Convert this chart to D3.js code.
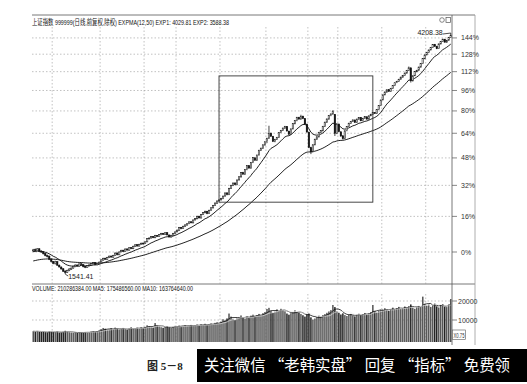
<!DOCTYPE html>
<html><head><meta charset="utf-8">
<script src="https://cdn.jsdelivr.net/npm/d3@7"></script>
<style>body{margin:0;background:#fff}svg{display:block}</style>
</head><body>
<svg id="c" width="527" height="384"></svg>
<script>
// ---- data (Shanghai index daily) ----
const closes = [
1705,1700,1712,1695,1690,1678,1665,1660,1640,1625,
1612,1622,1600,1588,1575,1560,1552,1565,1574,1580,1592,1600,1594,1608,1604,1590,1586,1596,1601,1610,1616,1604,1612,1620,
1635,1646,1640,1652,1661,1655,1666,1682,1671,1690,1702,1694,1711,1704,1720,1714,1731,1741,1733,1745,1752,1750,
1762,1786,1791,1802,1794,1811,1804,1816,1826,1819,1831,1815,1800,1812,1826,1837,
1851,1872,1864,1881,1892,1901,1916,1909,1931,1942,1961,1948,1976,1991,2002,1984,2011,2032,2051,2072,2090,2099,
2112,2133,2161,2148,2203,2231,2252,2238,2281,2312,2352,2338,2381,2422,2398,2452,2503,2478,2531,2582,2603,2641,2675,
2715,2771,2738,2680,2702,2724,2781,2803,2832,2851,2798,2761,2822,2884,2921,2962,2941,2975,2948,2880,2786,
2612,2565,2642,2703,2731,2782,2801,2852,2903,2941,2982,3004,3040,2771,2881,
2790,2740,2710,2800,2850,2890,2910,2930,2900,2940,2960,2920,2950,2970,2940,2980,3000,3020,3010,3060,3110,3183,
3252,3291,3322,3301,3342,3381,3421,3442,3471,3502,3523,3562,3601,3641,3449,3521,3582,3603,3652,3703,3781,3841,
3882,3921,3962,4013,3981,3942,4022,4061,4102,4051,4083,4132,4165];
const opens = [
1698,1706,1699,1713,1696,1691,1679,1664,1661,1641,
1624,1611,1623,1599,1587,1576,1561,1553,1566,1573,1581,1591,1601,1593,1609,1603,1591,1585,1597,1600,1609,1617,1603,1611,
1622,1634,1647,1639,1653,1662,1654,1667,1683,1670,1691,1703,1693,1712,1703,1721,1713,1730,1742,1732,1746,1753,
1752,1763,1785,1792,1803,1793,1812,1803,1817,1827,1818,1832,1814,1799,1813,1825,
1838,1850,1873,1863,1882,1891,1902,1917,1908,1932,1941,1962,1947,1977,1990,2003,1983,2012,2031,2052,2071,2091,
2100,2111,2134,2162,2147,2204,2230,2253,2237,2282,2311,2353,2337,2382,2421,2397,2453,2502,2477,2532,2581,2604,2640,
2676,2716,2772,2737,2679,2703,2725,2780,2804,2831,2852,2797,2760,2823,2883,2922,2961,2940,2976,2947,2879,
2785,2611,2566,2641,2704,2730,2783,2800,2853,2902,2940,2983,3003,3000,2770,
2880,2788,2742,2712,2801,2851,2889,2911,2929,2901,2939,2961,2921,2951,2969,2941,2981,2999,3021,3011,3059,3110,
3185,3253,3290,3323,3300,3343,3380,3422,3441,3472,3501,3524,3561,3602,3640,3448,3522,3581,3604,3651,3704,3780,
3842,3881,3922,3961,4014,3980,3943,4021,4062,4101,4050,4084,4131];
const highs = [
1712,1715,1718,1716,1702,1695,1684,1672,1665,1646,
1628,1630,1626,1605,1592,1580,1566,1570,1580,1585,1596,1606,1604,1612,1614,1606,1596,1600,1606,1614,1621,1620,1615,1624,
1640,1650,1650,1656,1665,1664,1670,1688,1686,1694,1706,1705,1715,1714,1725,1724,1735,1746,1744,1749,1758,1760,
1768,1790,1796,1806,1806,1815,1814,1820,1830,1830,1836,1834,1818,1816,1830,1842,
1856,1876,1876,1886,1896,1906,1920,1920,1935,1946,1966,1965,1980,1996,2008,2006,2016,2036,2056,2078,2095,2105,
2118,2138,2166,2166,2208,2236,2258,2258,2286,2318,2358,2360,2386,2428,2426,2456,2510,2508,2536,2588,2612,2648,2682,
2720,2860,2780,2742,2708,2730,2786,2810,2838,2858,2856,2800,2828,2890,2926,2968,2968,2994,2982,2952,2884,
2790,2620,2648,2710,2738,2788,2808,2858,2908,2948,2988,3010,3049,3000,2890,
2886,2795,2750,2806,2856,2896,2916,2936,2935,2946,2966,2966,2956,2976,2972,2986,3006,3026,3026,3066,3116,3190,
3258,3298,3328,3326,3348,3386,3428,3448,3478,3508,3528,3568,3608,3660,3645,3528,3588,3610,3658,3710,3788,3848,
3890,3928,3968,4020,4022,3990,4028,4068,4110,4108,4090,4140,4208.38];
const lows = [
1690,1694,1696,1690,1683,1672,1660,1652,1634,1618,
1606,1604,1595,1584,1570,1555,1541.41,1548,1560,1568,1576,1586,1590,1590,1600,1585,1580,1582,1592,1596,1604,1600,1598,1606,
1618,1630,1636,1636,1648,1650,1650,1664,1666,1668,1688,1690,1690,1700,1700,1710,1710,1726,1728,1730,1742,1744,
1748,1760,1780,1786,1790,1790,1800,1800,1812,1815,1815,1810,1796,1794,1808,1820,
1834,1846,1858,1860,1876,1886,1898,1904,1904,1926,1936,1944,1944,1972,1985,1978,1980,2008,2026,2048,2066,2086,
2094,2106,2128,2140,2142,2198,2224,2232,2232,2276,2304,2330,2332,2376,2390,2392,2448,2470,2472,2526,2574,2598,2632,
2660,2708,2730,2672,2670,2696,2718,2774,2798,2825,2792,2750,2754,2816,2878,2914,2932,2934,2940,2872,2780,
2605,2541,2560,2636,2698,2724,2776,2794,2846,2896,2934,2976,2996,2740,2762,
2784,2732,2700,2706,2795,2845,2883,2905,2894,2895,2934,2914,2914,2945,2934,2935,2975,2993,3004,3005,3053,3104,
3180,3246,3284,3294,3294,3336,3374,3416,3436,3466,3496,3518,3554,3596,3424,3440,3516,3574,3598,3646,3698,3774,
3836,3876,3916,3956,3975,3935,3938,4015,4056,4045,4044,4078,4125];
const volumes = [
4100,3900,4200,3800,3700,3900,3600,3500,4000,3800,
3700,3600,3900,3400,3500,3800,4300,3900,3600,3400,3300,3500,3200,3600,3400,3300,3700,3500,3600,3900,4100,3800,4200,4500,
5200,5800,5400,4900,5100,5600,5300,6000,5500,5100,5400,5800,5200,4900,5600,6100,5500,5300,5900,5600,6200,5800,
6400,7200,6800,6500,6100,8400,7000,6600,6200,5900,6300,6800,6100,5800,6400,6900,
6700,7100,6600,6900,7300,6800,7000,7400,6900,7200,7600,7100,7800,7400,8000,7300,7700,8200,7900,8500,8800,8300,
9200,10400,9800,10800,13400,11800,10600,9900,10900,11600,12400,11200,10800,11900,11300,12300,12800,11900,12600,13200,12400,13600,14200,
15800,16400,14600,13800,14400,15600,14800,15900,15200,14600,13400,12800,13600,14100,15100,14300,13900,13200,12500,11800,12900,
13600,11400,10200,10800,11500,12300,11800,12600,13100,13800,14500,15200,17900,16800,14600,
13800,12900,13500,12600,12100,12800,13200,12400,11900,12700,13300,12600,13100,13700,12900,13500,14200,17900,14600,14000,14800,15300,
15600,16200,15400,14900,15800,16500,15700,16300,16900,15800,16200,17100,16400,17300,18200,16600,15900,16800,17400,16900,22300,18400,
17600,18200,16900,17800,18600,17200,16600,17900,18400,17000,16800,18200,21029];
const monthStarts = [10, 34, 56, 72, 94, 117, 138, 153, 175, 197]; // candle index of each month's first day
const basePrice = 1690;            // 0% reference
const pctTicks = [0, 16, 32, 48, 64, 80, 96, 112, 128, 144];
const volTicks = [10000, 20000];
const emaSeed = {ema12: 1690, ema50: 1625};
const boxRange = {from: 93, to: 170, top: 3520, bottom: 2080};
const lowLabel = "1541.41", highLabel = "4208.38";
const titleText = "上证指数 999999(日线,前复权,除权) EXPMA(12,50) EXP1: 4029.81  EXP2: 3588.38";
const volTitle = "VOLUME: 210286384.00  MA5: 175486560.00  MA10: 163764640.00";
const scaleBadge = "X0.75";
const caption = "图 5－8";
const banner = "关注微信 “老韩实盘” 回复 “指标” 免费领";

// ---- derived indicators (EXPMA & volume MA) ----
function ema(arr, n, seed){const a=2/(n+1);let p=seed;return arr.map(v=>(p=a*v+(1-a)*p));}
function ma(arr,n){return arr.map((v,i)=>d3.mean(arr.slice(Math.max(0,i-n+1),i+1)));}
const ema12 = ema(closes,12,emaSeed.ema12), ema50 = ema(closes,50,emaSeed.ema50);
const vma5 = ma(volumes,5), vma10 = ma(volumes,10);

const N = closes.length;
const svg = d3.select("#c");
const L=32, R=452, R2=475, T=15, MID=284, VB=342;
const x = d3.scaleBand().domain(d3.range(N)).range([L,R]).padding(0.25);
const cx = i => x(i)+x.bandwidth()/2;
const y = d3.scaleLog().domain([basePrice, basePrice*Math.E]).range([252, 12]);
const yv = d3.scaleLinear().domain([0,20000]).range([339,301]);
const font = "'Liberation Sans Narrow','Liberation Sans','Noto Sans CJK SC',sans-serif";

// frame
const fr = svg.append("g").attr("stroke","#555").attr("stroke-width",0.8);
fr.append("line").attr("x1",L).attr("x2",R2).attr("y1",T).attr("y2",T);
fr.append("line").attr("x1",L).attr("x2",R2).attr("y1",MID).attr("y2",MID);
fr.append("line").attr("x1",R).attr("x2",R).attr("y1",T).attr("y2",VB+3);
fr.append("line").attr("x1",R2).attr("x2",R2).attr("y1",T).attr("y2",VB+3).attr("stroke","#999");

// grids
const grid = svg.append("g").attr("stroke","#999").attr("stroke-width",0.6).attr("stroke-dasharray","1.5,2");
pctTicks.forEach(p=>{const yy=y(basePrice*(1+p/100));
  grid.append("line").attr("x1",L).attr("x2",R).attr("y1",yy).attr("y2",yy);});
volTicks.forEach(v=>grid.append("line").attr("x1",L).attr("x2",R).attr("y1",yv(v)).attr("y2",yv(v)));
monthStarts.forEach(i=>{const xx=x(i)-0.3;
  grid.append("line").attr("x1",xx).attr("x2",xx).attr("y1",T+12).attr("y2",MID);
  grid.append("line").attr("x1",xx).attr("x2",xx).attr("y1",MID+10).attr("y2",VB);});

// right axis labels
const ax = svg.append("g").attr("font-family",font).attr("font-size",7).attr("fill","#333");
pctTicks.forEach(p=>{const yy=y(basePrice*(1+p/100));
  svg.append("line").attr("x1",R).attr("x2",R+5).attr("y1",yy).attr("y2",yy).attr("stroke","#555").attr("stroke-width",0.7);
  ax.append("text").attr("x",461).attr("y",yy+2.5).text(p+"%");});
volTicks.forEach(v=>{
  svg.append("line").attr("x1",R).attr("x2",R+5).attr("y1",yv(v)).attr("y2",yv(v)).attr("stroke","#555").attr("stroke-width",0.7);
  ax.append("text").attr("x",458).attr("y",yv(v)+2.5).text(v);});

// titles
svg.append("text").attr("x",L).attr("y",25).attr("font-family",font).attr("font-size",8).attr("fill","#111")
  .attr("textLength",197).attr("lengthAdjust","spacingAndGlyphs").text(titleText);
svg.append("text").attr("x",L).attr("y",291).attr("font-family",font).attr("font-size",8).attr("fill","#111")
  .attr("textLength",161).attr("lengthAdjust","spacingAndGlyphs").text(volTitle);
// top-right icons
svg.append("circle").attr("cx",442).attr("cy",20).attr("r",2.3).attr("fill","none").attr("stroke","#555").attr("stroke-width",0.7);
svg.append("rect").attr("x",446).attr("y",17.5).attr("width",4.5).attr("height",5).attr("fill","none").attr("stroke","#555").attr("stroke-width",0.7);

// clip
svg.append("clipPath").attr("id","pc").append("rect").attr("x",L).attr("y",T+1).attr("width",R-L).attr("height",MID-T-2);
svg.append("clipPath").attr("id","vc").append("rect").attr("x",L).attr("y",MID+8).attr("width",R-L).attr("height",VB-MID-8);

// EMA lines
const pg = svg.append("g").attr("clip-path","url(#pc)");
const line = d3.line().x((d,i)=>cx(i)).y(d=>y(d));
pg.append("path").attr("d",line(ema50)).attr("fill","none").attr("stroke","#222").attr("stroke-width",1);
pg.append("path").attr("d",line(ema12)).attr("fill","none").attr("stroke","#222").attr("stroke-width",1);

// candles
const cg = pg.append("g");
d3.range(N).forEach(i=>{
  const o=opens[i], c=closes[i];
  cg.append("line").attr("x1",cx(i)).attr("x2",cx(i)).attr("y1",y(highs[i])).attr("y2",y(lows[i])).attr("stroke","#111").attr("stroke-width",0.8);
  const top=y(Math.max(o,c)), bot=y(Math.min(o,c));
  cg.append("rect").attr("x",x(i)).attr("y",top).attr("width",x.bandwidth()).attr("height",Math.max(0.8,bot-top))
    .attr("fill", c>=o?"#fff":"#111").attr("stroke","#111").attr("stroke-width",0.5);
});

// highlight box (consolidation area)
svg.append("rect").attr("x",cx(boxRange.from)).attr("y",y(boxRange.top))
  .attr("width",cx(boxRange.to)-cx(boxRange.from)).attr("height",y(boxRange.bottom)-y(boxRange.top))
  .attr("fill","none").attr("stroke","#333").attr("stroke-width",0.9);

// low / high labels
const iLow = lows.indexOf(d3.min(lows)), iHigh = highs.indexOf(d3.max(highs));
svg.append("line").attr("x1",cx(iLow)).attr("x2",cx(iLow)+3).attr("y1",y(lows[iLow])).attr("y2",y(lows[iLow])+2).attr("stroke","#222").attr("stroke-width",0.8);
svg.append("text").attr("x",cx(iLow)+3).attr("y",y(lows[iLow])+5).attr("font-family",font).attr("font-size",7).attr("fill","#222").text(lowLabel);
svg.append("line").attr("x1",cx(iHigh)-8).attr("x2",cx(iHigh)).attr("y1",y(highs[iHigh])+1).attr("y2",y(highs[iHigh])).attr("stroke","#222").attr("stroke-width",0.8);
svg.append("text").attr("x",cx(iHigh)-8).attr("y",y(highs[iHigh])+2).attr("text-anchor","end").attr("font-family",font).attr("font-size",7).attr("fill","#222").text(highLabel);

// volume
const vg = svg.append("g").attr("clip-path","url(#vc)");
d3.range(N).forEach(i=>{
  vg.append("rect").attr("x",x(i)).attr("y",yv(volumes[i])).attr("width",x.bandwidth()).attr("height",yv(0)+3-yv(volumes[i]))
    .attr("fill", closes[i]>=opens[i]?"#555":"#222");
});
const vline = d3.line().x((d,i)=>cx(i)).y(d=>yv(d));
vg.append("path").attr("d",vline(vma5)).attr("fill","none").attr("stroke","#111").attr("stroke-width",0.8);
vg.append("path").attr("d",vline(vma10)).attr("fill","none").attr("stroke","#eee").attr("stroke-width",0.6);

// scale badge (drawn above everything in its area)
svg.append("rect").attr("x",452.5).attr("y",330).attr("width",13).attr("height",9.5).attr("fill","#fff").attr("stroke","#555").attr("stroke-width",0.6);
svg.append("text").attr("x",453.5).attr("y",337.6).attr("font-family",font).attr("font-size",6.5).attr("fill","#333")
  .attr("textLength",11).attr("lengthAdjust","spacingAndGlyphs").text(scaleBadge);

// caption and banner
svg.append("text").attr("x",147).attr("y",370).attr("font-family","'Liberation Serif','Noto Sans CJK SC',serif").attr("font-weight","bold")
  .attr("font-size",11).attr("fill","#222").text(caption);
svg.append("rect").attr("x",197).attr("y",349).attr("width",330).attr("height",33).attr("fill","#000");
svg.append("text").attr("x",204).attr("y",371).attr("font-family","'Noto Sans CJK SC',sans-serif").attr("font-size",16).attr("fill","#fff")
  .attr("textLength",306).attr("lengthAdjust","spacingAndGlyphs").text(banner);
</script>
</body></html>
